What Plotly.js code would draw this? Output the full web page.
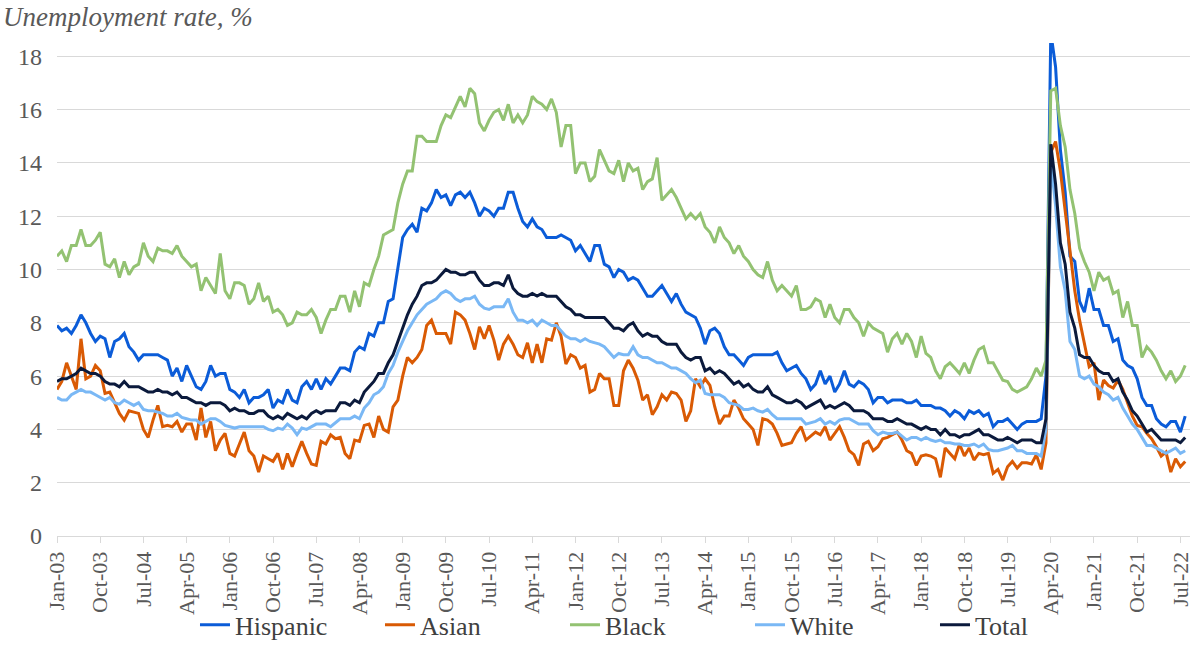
<!DOCTYPE html>
<html>
<head>
<meta charset="utf-8">
<script src="https://cdn.plot.ly/plotly-3.0.1.min.js"></script>
<style>html,body{margin:0;padding:0;background:#fff;}#chart{width:1195px;height:668px;}</style>
</head>
<body>
<div id="chart"></div>
<script>
// Monthly data, Jan-2003 .. Aug-2022 (unemployment rate, %)
const tickLabels = ['Jan-03','Oct-03','Jul-04','Apr-05','Jan-06','Oct-06','Jul-07','Apr-08','Jan-09','Oct-09','Jul-10','Apr-11','Jan-12','Oct-12','Jul-13','Apr-14','Jan-15','Oct-15','Jul-16','Apr-17','Jan-18','Oct-18','Jul-19','Apr-20','Jan-21','Oct-21','Jul-22'];

const hispanic = [
 7.9,7.7,7.8,7.6,7.9,8.3,8.0,7.6,7.3,7.5,7.4,6.7,
 7.3,7.4,7.6,7.1,6.9,6.6,6.8,6.8,6.8,6.8,6.7,6.6,
 6.0,6.3,5.8,6.4,6.0,5.6,5.5,5.8,6.4,6.0,6.1,6.1,
 5.5,5.4,5.2,5.5,5.0,5.2,5.2,5.3,5.5,4.8,5.1,5.0,
 5.5,5.1,5.0,5.6,5.8,5.5,5.9,5.5,5.9,5.7,6.0,6.3,
 6.3,6.2,6.9,7.1,7.0,7.6,7.5,8.0,8.0,8.8,8.9,10.0,
 11.2,11.5,11.7,11.4,12.3,12.2,12.5,13.0,12.7,12.8,12.4,12.8,
 12.9,12.7,12.9,12.5,12.0,12.3,12.2,12.0,12.3,12.3,12.9,12.9,
 12.3,11.8,11.6,11.9,11.6,11.5,11.2,11.2,11.2,11.3,11.2,11.1,
 10.7,10.9,10.6,10.3,10.9,10.9,10.2,10.1,9.7,10.0,9.9,9.6,
 9.7,9.6,9.3,9.0,9.0,9.2,9.4,9.1,8.8,9.1,8.7,8.4,
 8.3,8.2,7.8,7.2,7.7,7.8,7.6,7.1,6.8,6.8,6.6,6.4,
 6.7,6.8,6.8,6.8,6.8,6.8,6.9,6.5,6.2,6.3,6.4,6.1,
 5.9,5.5,5.7,6.2,5.7,6.0,5.4,5.7,6.2,5.7,5.6,5.8,
 5.7,5.5,5.0,5.2,5.2,5.0,5.1,5.1,5.1,5.0,5.0,5.1,
 4.9,4.9,4.9,4.8,4.8,4.7,4.5,4.7,4.6,4.4,4.7,4.6,
 4.7,4.5,4.6,4.1,4.3,4.3,4.4,4.2,4.0,4.2,4.3,4.3,
 4.3,4.4,6.0,18.9,17.6,14.5,12.9,10.5,10.3,8.8,8.4,9.3,
 8.5,8.5,7.9,7.9,7.3,7.4,6.6,6.4,6.3,5.9,5.2,4.9,
 4.9,4.4,4.2,4.1,4.3,4.3,3.9,4.5
];

const asian = [
 5.5,5.8,6.5,6.0,5.5,7.4,5.9,6.0,6.4,6.2,5.35,5.4,
 5.0,4.6,4.35,4.7,4.65,4.6,4.0,3.7,4.35,4.9,4.1,4.15,
 4.1,4.3,3.9,4.2,4.2,3.6,4.8,3.7,4.3,3.2,3.6,3.85,
 3.1,3.0,3.45,3.9,3.2,3.0,2.4,3.0,2.9,2.8,3.1,2.5,
 3.1,2.6,3.1,3.55,3.1,2.7,2.65,3.55,3.45,3.8,3.65,3.7,
 3.1,2.9,3.6,3.55,4.15,4.2,3.7,4.5,4.0,3.9,4.85,5.1,
 6.0,6.7,6.5,6.7,7.0,7.9,8.1,7.6,7.6,7.6,7.2,8.4,
 8.3,8.1,7.6,7.0,7.85,7.4,7.9,7.35,6.6,7.2,7.5,7.2,
 6.8,6.7,7.25,6.5,7.2,6.5,7.4,7.35,8.0,7.5,6.45,6.8,
 6.7,6.3,6.4,5.4,5.5,6.1,5.9,5.9,4.9,4.9,6.2,6.6,
 6.3,5.85,5.1,5.3,4.55,4.85,5.3,5.1,5.4,5.35,5.1,4.3,
 4.7,5.9,5.6,5.9,5.65,4.85,4.2,4.5,4.5,5.1,4.8,4.4,
 4.2,4.0,3.4,4.4,4.35,4.2,3.85,3.4,3.45,3.5,3.85,4.1,
 3.6,3.75,3.9,3.8,4.1,3.6,3.85,4.1,3.7,3.2,3.05,2.65,
 3.45,3.55,3.2,3.35,3.65,3.7,3.8,3.9,3.6,3.2,3.1,2.65,
 3.0,3.05,3.0,2.9,2.2,3.3,3.1,2.9,3.45,3.0,3.3,2.85,
 3.1,3.05,3.1,2.35,2.5,2.1,2.6,2.8,2.55,2.75,2.75,2.7,
 3.05,2.5,3.5,14.4,14.8,13.7,12.2,10.7,9.2,8.1,7.2,6.35,
 6.5,5.1,5.85,5.65,5.55,5.85,5.5,5.0,4.5,4.15,4.1,3.85,
 3.65,3.35,3.0,3.15,2.4,2.9,2.6,2.8
];

const black = [
 10.5,10.7,10.3,10.9,10.9,11.5,10.9,10.9,11.1,11.4,10.2,10.1,
 10.4,9.7,10.3,9.8,10.1,10.2,11.0,10.5,10.3,10.8,10.7,10.7,
 10.6,10.9,10.5,10.3,10.1,10.2,9.2,9.7,9.4,9.1,10.6,9.2,
 8.9,9.5,9.5,9.4,8.7,8.9,9.5,8.8,9.0,8.4,8.5,8.3,
 7.9,8.0,8.4,8.3,8.3,8.5,8.2,7.6,8.1,8.5,8.5,9.0,
 9.0,8.4,9.2,8.6,9.5,9.4,10.0,10.5,11.3,11.4,11.5,12.5,
 13.2,13.7,13.7,15.0,15.0,14.8,14.8,14.8,15.4,15.8,15.7,16.1,
 16.5,16.1,16.8,16.6,15.5,15.2,15.6,15.9,16.0,15.6,16.2,15.5,
 15.8,15.5,15.8,16.5,16.3,16.2,16.0,16.4,15.9,14.6,15.4,15.4,
 13.6,14.0,14.0,13.3,13.5,14.5,14.1,13.7,13.6,14.1,13.3,14.0,
 13.7,13.8,13.0,13.3,13.4,14.2,12.6,12.8,13.0,12.7,12.3,11.9,
 12.1,11.9,12.1,11.6,11.4,11.0,11.6,11.2,11.0,10.6,10.9,10.5,
 10.3,10.0,9.8,9.7,10.3,9.6,9.2,9.4,9.2,9.0,9.4,8.5,
 8.5,8.6,8.9,8.8,8.2,8.7,8.2,8.0,8.5,8.5,8.2,8.0,
 7.5,8.0,7.8,7.7,7.6,6.9,7.4,7.6,7.2,7.6,7.3,6.7,
 7.5,6.85,6.7,6.2,5.9,6.35,6.5,6.3,6.1,6.5,6.1,6.6,
 7.0,7.1,6.5,6.5,6.2,5.85,5.8,5.5,5.4,5.5,5.6,5.9,
 6.3,6.0,6.6,16.7,16.8,15.4,14.6,13.0,12.1,10.8,10.3,9.9,
 9.2,9.9,9.6,9.7,9.1,9.2,8.2,8.8,7.9,7.9,6.7,7.1,
 6.9,6.6,6.2,5.9,6.2,5.8,6.0,6.4
];

const white = [
 5.2,5.1,5.1,5.3,5.4,5.5,5.4,5.4,5.3,5.2,5.1,5.2,
 5.0,4.95,5.1,5.0,4.9,5.0,4.75,4.7,4.7,4.65,4.6,4.5,
 4.5,4.6,4.45,4.4,4.35,4.35,4.2,4.3,4.4,4.4,4.3,4.15,
 4.1,4.05,4.1,4.1,4.1,4.1,4.1,4.1,4.0,3.95,4.05,4.0,
 4.2,4.05,3.8,4.05,4.0,4.1,4.2,4.2,4.2,4.1,4.25,4.4,
 4.4,4.4,4.5,4.4,4.8,5.0,5.3,5.4,5.6,6.1,6.4,6.9,
 7.3,7.7,8.0,8.3,8.5,8.7,8.8,8.9,9.1,9.2,9.1,8.9,
 8.8,8.9,8.9,9.0,8.7,8.55,8.5,8.6,8.6,8.6,8.9,8.4,
 8.1,8.1,8.0,8.1,7.9,8.1,8.0,7.9,7.9,7.7,7.5,7.4,
 7.4,7.3,7.4,7.3,7.25,7.2,7.1,6.9,6.7,6.85,6.8,6.8,
 7.1,6.8,6.7,6.7,6.6,6.5,6.5,6.4,6.3,6.3,6.2,6.1,
 5.9,5.75,5.85,5.35,5.3,5.3,5.3,5.2,5.0,4.95,4.9,4.75,
 4.75,4.8,4.7,4.65,4.75,4.55,4.4,4.4,4.4,4.4,4.4,4.4,
 4.2,4.25,4.3,4.4,4.2,4.3,4.2,4.35,4.4,4.4,4.3,4.2,
 4.2,4.2,3.95,3.8,3.9,3.85,3.85,3.9,3.75,3.6,3.7,3.7,
 3.6,3.7,3.6,3.55,3.6,3.5,3.5,3.45,3.45,3.4,3.4,3.45,
 3.35,3.45,3.25,3.2,3.2,3.25,3.3,3.4,3.2,3.2,3.1,3.1,
 3.1,3.0,4.0,14.1,12.4,10.1,9.2,7.3,7.0,6.0,5.9,6.0,
 5.7,5.6,5.4,5.3,5.1,5.2,4.8,4.5,4.2,4.0,3.7,3.4,
 3.4,3.3,3.2,3.1,3.2,3.3,3.1,3.2
];

const total = [
 5.8,5.9,5.9,6.0,6.1,6.3,6.2,6.1,6.1,6.0,5.8,5.7,
 5.7,5.6,5.8,5.6,5.6,5.6,5.5,5.4,5.4,5.5,5.4,5.4,
 5.3,5.4,5.2,5.2,5.1,5.0,5.0,4.9,5.0,5.0,5.0,4.9,
 4.7,4.8,4.7,4.7,4.6,4.6,4.7,4.7,4.5,4.4,4.5,4.4,
 4.6,4.5,4.4,4.5,4.4,4.6,4.7,4.6,4.7,4.7,4.7,5.0,
 5.0,4.9,5.1,5.0,5.4,5.6,5.8,6.1,6.1,6.5,6.8,7.3,
 7.8,8.3,8.7,9.0,9.4,9.5,9.5,9.6,9.8,10.0,9.9,9.9,
 9.8,9.8,9.9,9.9,9.6,9.4,9.4,9.5,9.5,9.4,9.8,9.3,
 9.1,9.0,9.0,9.1,9.0,9.1,9.0,9.0,9.0,8.8,8.6,8.5,
 8.3,8.3,8.2,8.2,8.2,8.2,8.2,8.0,7.8,7.8,7.7,7.9,
 8.0,7.7,7.5,7.6,7.5,7.5,7.3,7.2,7.2,7.2,6.9,6.7,
 6.6,6.7,6.7,6.2,6.3,6.1,6.2,6.1,5.9,5.7,5.8,5.6,
 5.7,5.5,5.4,5.4,5.6,5.3,5.2,5.1,5.0,5.0,5.1,5.0,
 4.8,4.9,5.0,5.1,4.8,4.9,4.8,4.9,5.0,4.9,4.7,4.7,
 4.7,4.6,4.4,4.4,4.4,4.3,4.3,4.4,4.3,4.2,4.2,4.1,
 4.0,4.1,4.0,4.0,3.8,4.0,3.8,3.8,3.7,3.8,3.8,3.9,
 4.0,3.8,3.8,3.7,3.6,3.6,3.7,3.6,3.5,3.6,3.6,3.6,
 3.5,3.5,4.4,14.7,13.2,11.0,10.2,8.4,7.8,6.8,6.7,6.7,
 6.4,6.2,6.1,6.1,5.8,5.9,5.4,5.1,4.7,4.5,4.2,3.9,
 4.0,3.8,3.6,3.6,3.6,3.6,3.5,3.7
];

const seriesNames = ['Hispanic','Asian','Black','White','Total'];
const seriesData = [hispanic, asian, black, white, total];
const seriesColors = ['#0b5cd8','#d95a04','#93c272','#7ab8f5','#0b1a3c'];

const idx = total.map((_, i) => i);
const traces = seriesData.map((vals, k) => ({
  x: idx, y: vals, type: 'scatter', mode: 'lines', name: seriesNames[k],
  line: {color: seriesColors[k], width: 3}, hoverinfo: 'skip'
}));

const serif = '"Liberation Serif", "Times New Roman", serif';
const layout = {
  width: 1195, height: 668,
  margin: {l: 57, r: 5, t: 43, b: 132},
  paper_bgcolor: '#ffffff', plot_bgcolor: '#ffffff',
  font: {family: serif, color: '#595959'},
  showlegend: true,
  xaxis: {
    range: [0, 236], tickvals: tickLabels.map((_, i) => i * 9), ticktext: tickLabels,
    tickangle: -90, tickfont: {family: serif, size: 22, color: '#595959'},
    showgrid: false, zeroline: false, showline: true, linecolor: '#d9d9d9', linewidth: 1,
    ticks: 'outside', ticklen: 6, tickcolor: '#d9d9d9', tickwidth: 1
  },
  yaxis: {
    range: [0, 18.5], tickvals: [0,2,4,6,8,10,12,14,16,18],
    tickfont: {family: serif, size: 24, color: '#595959'},
    showgrid: true, gridcolor: '#d9d9d9', gridwidth: 1, zeroline: false,
    showline: false, ticks: '', ticklabelstandoff: 14
  },
  legend: {
    orientation: 'h', x: 0.53, xanchor: 'center', y: -0.18, yanchor: 'middle',
    entrywidth: 140, entrywidthmode: 'pixels',
    font: {family: serif, size: 26, color: '#404040'}, bgcolor: 'rgba(0,0,0,0)'
  },
  annotations: [{
    text: '<i>Unemployment rate, %</i>', xref: 'paper', yref: 'paper',
    x: -0.049, xanchor: 'left', y: 1.052, yanchor: 'middle', showarrow: false,
    font: {family: serif, size: 27, color: '#595959'}
  }]
};

Plotly.newPlot('chart', traces, layout, {staticPlot: true, displayModeBar: false});
</script>
</body>
</html>
